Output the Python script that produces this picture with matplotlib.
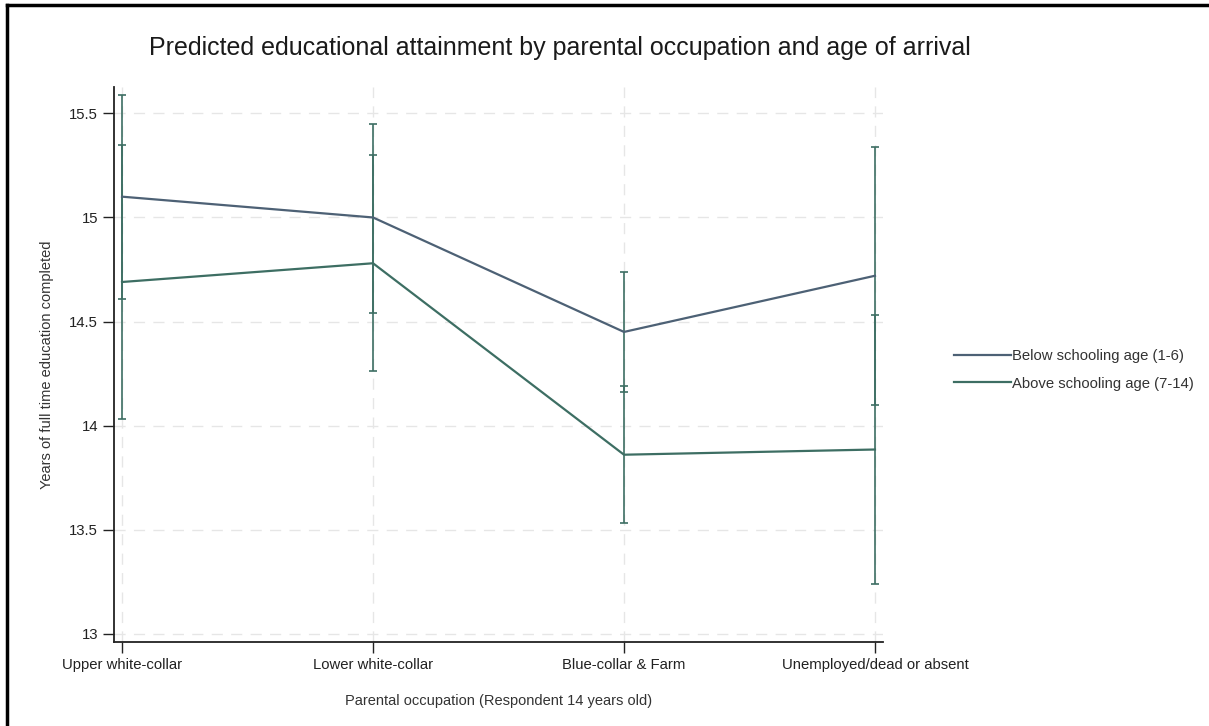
import matplotlib
matplotlib.use("Agg")
import matplotlib.pyplot as plt
import numpy as np

plt.rcParams['font.family'] = ['Liberation Sans', 'DejaVu Sans']

categories = ['Upper white-collar', 'Lower white-collar', 'Blue-collar & Farm', 'Unemployed/dead or absent']
series_names = ['Below schooling age (1-6)', 'Above schooling age (7-14)']

# predicted means and confidence bounds
below_mean = [15.10, 15.00, 14.45, 14.72]
below_lo = [14.61, 14.54, 14.16, 14.10]
below_hi = [15.59, 15.45, 14.74, 15.34]

above_mean = [14.69, 14.78, 13.86, 13.885]
above_lo = [14.03, 14.26, 13.53, 13.24]
above_hi = [15.35, 15.30, 14.19, 14.53]

yticks = [13, 13.5, 14, 14.5, 15, 15.5]
ytick_labels = ['13', '13.5', '14', '14.5', '15', '15.5']

col_below = '#4d6175'
col_above = '#3d6e63'

fig = plt.figure(figsize=(12.09, 7.26), dpi=100)
ax = fig.add_axes([114 / 1209, 1 - 642 / 726, (883 - 114) / 1209, (642 - 87) / 726])

x = np.arange(len(categories))

for mean, lo, hi, col, name in [(below_mean, below_lo, below_hi, col_below, series_names[0]),
                                (above_mean, above_lo, above_hi, col_above, series_names[1])]:
    mean = np.array(mean)
    err = [mean - np.array(lo), np.array(hi) - mean]
    ax.errorbar(x, mean, yerr=err, fmt='none', ecolor=col_above, elinewidth=1.2,
                capsize=3, capthick=1.2, zorder=3)
    ax.plot(x, mean, color=col, lw=1.6, label=name, zorder=4)

ax.set_xlim(-0.032, 3.032)
ax.set_ylim(12.96, 15.627)
ax.set_xticks(x)
ax.set_xticklabels(categories, fontsize=10.7, color='#222222')
ax.set_yticks(yticks)
ax.set_yticklabels(ytick_labels, fontsize=10.7, color='#222222')
ax.tick_params(length=8, width=1, color='#222222')

ax.grid(True, color='#e6e6e6', linestyle=(0, (8, 6)), linewidth=1)
ax.set_axisbelow(True)
ax.spines['top'].set_visible(False)
ax.spines['right'].set_visible(False)
ax.spines['left'].set_color('#222222')
ax.spines['bottom'].set_color('#222222')
ax.spines['left'].set_linewidth(1.3)
ax.spines['bottom'].set_linewidth(1.3)

ax.set_xlabel('Parental occupation (Respondent 14 years old)', fontsize=10.5, color='#333333', labelpad=16)
ax.set_ylabel('Years of full time education completed', fontsize=10.5, color='#333333', labelpad=11)

fig.text(560 / 1209, 1 - 48 / 726, 'Predicted educational attainment by parental occupation and age of arrival',
         ha='center', va='center', fontsize=18, color='#1a1a1a')

leg = ax.legend(loc='center left', bbox_to_anchor=(941 / 1209, 1 - 370 / 726), bbox_transform=fig.transFigure,
                frameon=False, fontsize=10.7, handlelength=3.8, handletextpad=0.1, labelspacing=0.9,
                labelcolor='#333333')

# outer frame
fig.add_artist(plt.Line2D([7 / 1209, 7 / 1209], [0, 1 - 5 / 726], transform=fig.transFigure, color='black', lw=2.5))
fig.add_artist(plt.Line2D([7 / 1209, 1], [1 - 5 / 726, 1 - 5 / 726], transform=fig.transFigure, color='black', lw=2.5))

fig.savefig('out.png', dpi=100)
